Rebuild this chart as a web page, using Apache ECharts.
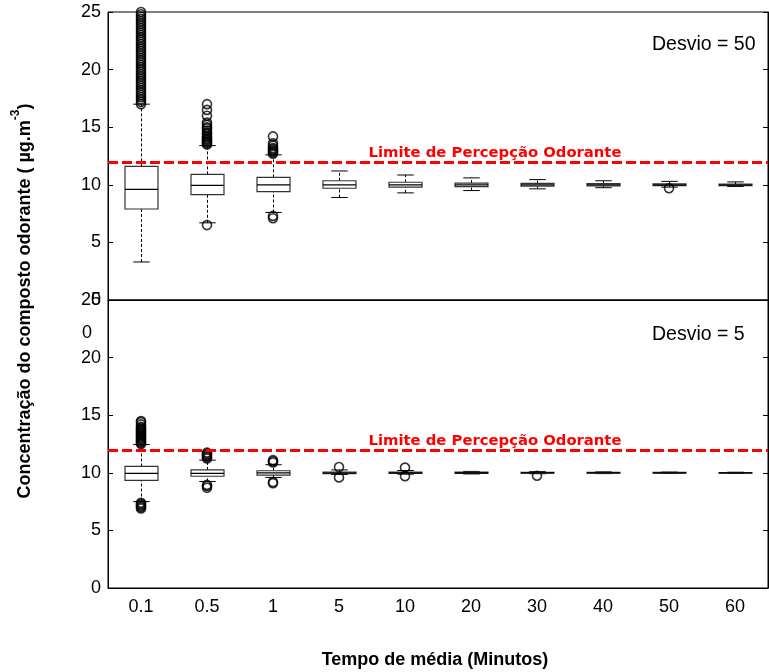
<!DOCTYPE html>
<html><head><meta charset="utf-8">
<script src="https://cdn.jsdelivr.net/npm/echarts@6/dist/echarts.min.js"></script>
<style>html,body{margin:0;padding:0;background:#fff}#c{width:769px;height:672px}</style>
</head><body><div id="c"></div>
<script>
const categories = ['0.1','0.5','1','5','10','20','30','40','50','60'];
const yTicks = [0, 5, 10, 15, 20, 25];
const threshold = 12;
const thresholdLabel = 'Limite de Percepção Odorante';
const xTitle = 'Tempo de média (Minutos)';
const panelTitles = ['Desvio = 50', 'Desvio = 5'];

// Panel 1: Desvio = 50  (whisker low, Q1, median, Q3, whisker high)
const d50Low  = [3.3, 6.7, 7.6, 8.9, 9.3, 9.5, 9.65, 9.75, 9.8, 9.85];
const d50Q1   = [7.9, 9.15, 9.4, 9.7, 9.8, 9.85, 9.88, 9.9, 9.92, 9.93];
const d50Med  = [9.6, 9.95, 10.0, 10.0, 10.0, 10.0, 10.0, 10.0, 10.0, 10.0];
const d50Q3   = [11.6, 10.9, 10.65, 10.35, 10.22, 10.15, 10.12, 10.1, 10.08, 10.07];
const d50High = [17.0, 13.4, 12.6, 11.2, 10.85, 10.6, 10.45, 10.35, 10.3, 10.25];
const d50Outliers = [
  ['0.1',17.0],['0.1',17.2],['0.1',17.4],['0.1',17.6],['0.1',17.8],['0.1',18.0],['0.1',18.2],['0.1',18.4],
  ['0.1',18.6],['0.1',18.8],['0.1',19.0],['0.1',19.2],['0.1',19.4],['0.1',19.6],['0.1',19.8],['0.1',20.0],
  ['0.1',20.2],['0.1',20.4],['0.1',20.6],['0.1',20.8],['0.1',21.0],['0.1',21.2],['0.1',21.4],['0.1',21.6],
  ['0.1',21.8],['0.1',22.0],['0.1',22.2],['0.1',22.4],['0.1',22.6],['0.1',22.8],['0.1',23.0],['0.1',23.2],
  ['0.1',23.4],['0.1',23.6],['0.1',23.8],['0.1',24.0],['0.1',24.2],['0.1',24.4],['0.1',24.6],['0.1',24.8],['0.1',25.0],
  ['0.5',13.5],['0.5',13.6],['0.5',13.7],['0.5',13.8],['0.5',13.9],['0.5',14.0],['0.5',14.1],['0.5',14.2],
  ['0.5',14.4],['0.5',14.5],['0.5',14.7],['0.5',14.9],['0.5',15.0],['0.5',15.2],['0.5',15.4],['0.5',16.0],
  ['0.5',16.5],['0.5',17.0],['0.5',6.5],
  ['1',12.7],['1',12.8],['1',12.9],['1',13.0],['1',13.1],['1',13.2],['1',13.4],['1',13.6],['1',14.2],
  ['1',7.1],['1',7.3],
  ['50',9.7]
];

// Panel 2: Desvio = 5
const d5Low  = [7.5, 9.25, 9.6, 9.85, 9.88, 9.9, 9.92, 9.93, 9.95, 9.95];
const d5Q1   = [9.35, 9.7, 9.8, 9.93, 9.94, 9.95, 9.96, 9.97, 9.97, 9.98];
const d5Med  = [9.95, 9.95, 10.0, 10.0, 10.0, 10.0, 10.0, 10.0, 10.0, 10.0];
const d5Q3   = [10.55, 10.25, 10.18, 10.07, 10.06, 10.05, 10.04, 10.03, 10.03, 10.02];
const d5High = [12.45, 11.1, 10.7, 10.25, 10.2, 10.12, 10.1, 10.08, 10.06, 10.05];
const d5Outliers = [
  ['0.1',12.5],['0.1',12.6],['0.1',12.7],['0.1',12.8],['0.1',12.9],['0.1',13.0],['0.1',13.1],['0.1',13.2],
  ['0.1',13.3],['0.1',13.4],['0.1',13.5],['0.1',13.6],['0.1',13.7],['0.1',13.8],['0.1',13.9],['0.1',14.0],
  ['0.1',14.2],['0.1',14.4],['0.1',14.5],
  ['0.1',7.4],['0.1',7.3],['0.1',7.2],['0.1',7.1],['0.1',7.0],['0.1',6.9],
  ['0.5',11.25],['0.5',11.35],['0.5',11.45],['0.5',11.55],['0.5',11.65],['0.5',11.75],
  ['0.5',8.95],['0.5',8.85],['0.5',8.7],
  ['1',10.9],['1',11.0],['1',11.1],['1',9.2],['1',9.1],
  ['5',10.5],['5',9.6],
  ['10',10.45],['10',9.7],
  ['30',9.75]
];

const FONT = 'Liberation Sans, Arial, sans-serif';
const WIDE = 'DejaVu Sans, Liberation Sans, sans-serif';

function boxData(lo, q1, md, q3, hi) {
  return categories.map((c, i) => [i, lo[i], q1[i], md[i], q3[i], hi[i]]);
}
function outlierData(list) {
  return list.map(p => [categories.indexOf(p[0]), p[1]]);
}
function renderBox(params, api) {
  const i = api.value(0);
  const lo = api.coord([i, api.value(1)]);
  const q1 = api.coord([i, api.value(2)]);
  const md = api.coord([i, api.value(3)]);
  const q3 = api.coord([i, api.value(4)]);
  const hi = api.coord([i, api.value(5)]);
  const band = api.size([1, 0])[0];
  const x = Math.round(lo[0]) + 0.5;
  const hb = band * 0.25, hc = band * 0.125;
  const dash = {stroke: '#000', lineWidth: 1, lineDash: [3, 2], fill: null};
  const solid = {stroke: '#000', lineWidth: 1, fill: null};
  return {type: 'group', children: [
    {type: 'line', shape: {x1: x, y1: q3[1], x2: x, y2: hi[1]}, style: dash},
    {type: 'line', shape: {x1: x, y1: lo[1], x2: x, y2: q1[1]}, style: dash},
    {type: 'line', shape: {x1: x - hc, y1: hi[1], x2: x + hc, y2: hi[1]}, style: solid},
    {type: 'line', shape: {x1: x - hc, y1: lo[1], x2: x + hc, y2: lo[1]}, style: solid},
    {type: 'rect', shape: {x: x - hb, y: q3[1], width: 2 * hb, height: q1[1] - q3[1]},
      style: {fill: '#fff', stroke: '#333', lineWidth: 1.2}},
    {type: 'line', shape: {x1: x - hb, y1: md[1], x2: x + hb, y2: md[1]}, style: {stroke: '#000', lineWidth: 1.3}}
  ]};
}

const grids = [
  {left: 108, top: 12, width: 660, height: 288},
  {left: 108, top: 300, width: 660, height: 288}
].map(g => Object.assign(g, {show: true, borderColor: '#000', borderWidth: 1, backgroundColor: 'transparent'}));

const xAxes = [0, 1].map(gi => ({
  type: 'category', gridIndex: gi, data: categories, boundaryGap: true,
  axisLine: {show: true, lineStyle: {color: '#000', width: 1}},
  axisTick: {show: false},
  axisLabel: {show: gi === 1, color: '#000', fontSize: 18, fontFamily: FONT, margin: 10},
  splitLine: {show: false}
}));

const yAxes = [];
[0, 1].forEach(gi => {
  yAxes.push({
    type: 'value', gridIndex: gi, min: yTicks[0], max: yTicks[yTicks.length - 1], interval: 5,
    axisLine: {show: true, lineStyle: {color: '#000', width: 1}},
    axisTick: {show: true, inside: true, length: 5, lineStyle: {color: '#000'}},
    axisLabel: {color: '#000', fontSize: 18, fontFamily: FONT, margin: 7, showMinLabel: true, showMaxLabel: true},
    splitLine: {show: false}
  });
  yAxes.push({
    type: 'value', gridIndex: gi, position: 'right', min: yTicks[0], max: yTicks[yTicks.length - 1], interval: 5,
    axisLine: {show: true, lineStyle: {color: '#000', width: 1}},
    axisTick: {show: true, inside: true, length: 5, lineStyle: {color: '#000'}},
    axisLabel: {show: false},
    splitLine: {show: false}
  });
});

function panelSeries(gi, box, outl) {
  return [
    {type: 'custom', xAxisIndex: gi, yAxisIndex: gi * 2, data: box, renderItem: renderBox,
      encode: {x: 0, y: [1, 2, 3, 4, 5]}, z: 2, silent: true, clip: false},
    {type: 'scatter', xAxisIndex: gi, yAxisIndex: gi * 2, data: outl, symbol: 'circle', symbolSize: 9,
      itemStyle: {color: 'rgba(0,0,0,0)', borderColor: '#000', borderWidth: 1.6}, z: 3, silent: true,
      markLine: {silent: true, symbol: 'none', z: 5,
        lineStyle: {color: '#ff0000', width: 3, type: [10, 4]},
        label: {show: true, position: 'insideMiddleTop', formatter: thresholdLabel, color: '#ff0000',
          fontWeight: 'bold', fontSize: 14.8, fontFamily: WIDE, offset: [57, 4]},
        data: [{yAxis: threshold}]}}
  ];
}

const chart = echarts.init(document.getElementById('c'), null, {renderer: 'canvas'});
chart.setOption({
  backgroundColor: '#fff',
  animation: false,
  grid: grids,
  xAxis: xAxes,
  yAxis: yAxes,
  series: [].concat(
    panelSeries(0, boxData(d50Low, d50Q1, d50Med, d50Q3, d50High), outlierData(d50Outliers)),
    panelSeries(1, boxData(d5Low, d5Q1, d5Med, d5Q3, d5High), outlierData(d5Outliers))
  ),
  graphic: [
    {type: 'text', x: 652, y: 45, style: {text: panelTitles[0], align: 'left', verticalAlign: 'middle',
      font: '19.5px ' + FONT, fill: '#000'}},
    {type: 'text', x: 652, y: 335, style: {text: panelTitles[1], align: 'left', verticalAlign: 'middle',
      font: '19.5px ' + FONT, fill: '#000'}},
    {type: 'text', x: 87, y: 333, style: {text: '0', align: 'center', verticalAlign: 'middle',
      font: '18px ' + FONT, fill: '#000'}},
    {type: 'text', x: 435, y: 660, style: {text: xTitle, align: 'center', verticalAlign: 'middle',
      font: 'bold 18px ' + FONT, fill: '#000'}},
    {type: 'text', x: 22, y: 301, rotation: Math.PI / 2, style: {
      text: '{a|Concentração do composto odorante ( µg.m}{s|-3}{a|)}',
      align: 'center', verticalAlign: 'middle',
      rich: {
        a: {fontSize: 18, fontWeight: 'bold', fontFamily: FONT, fill: '#000', lineHeight: 24, verticalAlign: 'bottom'},
        s: {fontSize: 12, fontWeight: 'bold', fontFamily: FONT, fill: '#000', lineHeight: 24, verticalAlign: 'top'}
      }}}
  ]
});
</script>
</body></html>
